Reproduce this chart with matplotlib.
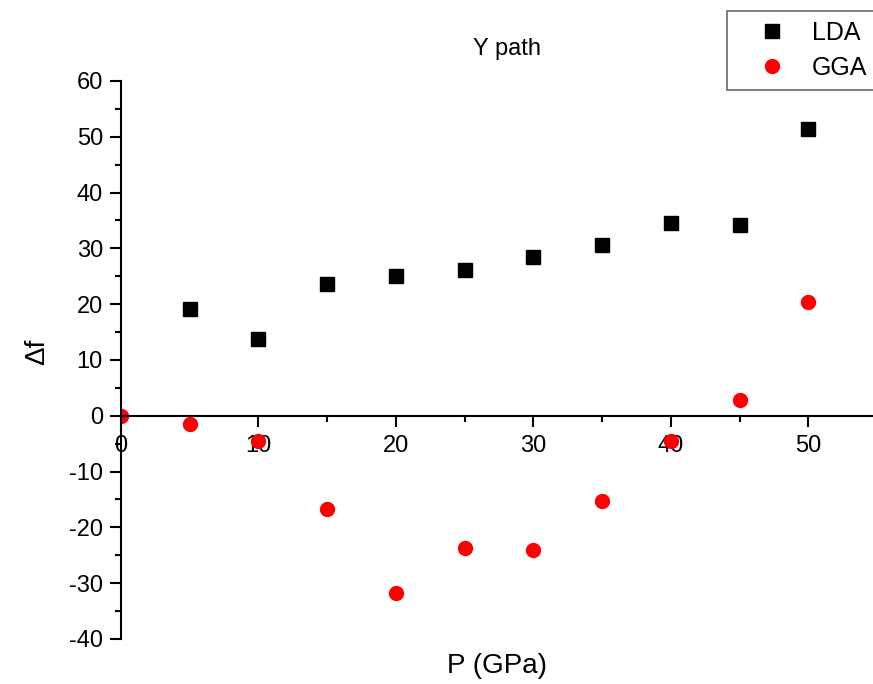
import matplotlib.pyplot as plt
from matplotlib.ticker import MultipleLocator

plt.rcParams['font.family'] = ['Liberation Sans', 'DejaVu Sans']
plt.rcParams['axes.unicode_minus'] = False

pressure = [0, 5, 10, 15, 20, 25, 30, 35, 40, 45, 50]
lda_pressure = [5, 10, 15, 20, 25, 30, 35, 40, 45, 50]
lda = [19.1, 13.8, 23.7, 25.0, 26.1, 28.5, 30.6, 34.5, 34.2, 51.4]
gga = [0, -1.5, -4.5, -16.7, -31.8, -23.7, -24.1, -15.3, -4.5, 2.8, 20.4]

fig = plt.figure(figsize=(8.73, 6.84), dpi=100)
ax = fig.add_axes([0.1386, 0.0658, 0.8614, 0.8158])

ax.plot(lda_pressure, lda, 's', color='black', markersize=9.5, label='LDA')
ax.plot(pressure, gga, 'o', color='red', markersize=10, label='GGA')

ax.set_xlim(0, 54.7)
ax.set_ylim(-40, 60)
ax.spines['top'].set_visible(False)
ax.spines['right'].set_visible(False)
ax.spines['bottom'].set_position(('data', 0))
for s in ax.spines.values():
    s.set_linewidth(1.5)

ax.xaxis.set_major_locator(MultipleLocator(10))
ax.xaxis.set_minor_locator(MultipleLocator(5))
ax.yaxis.set_major_locator(MultipleLocator(10))
ax.yaxis.set_minor_locator(MultipleLocator(5))
ax.tick_params(which='major', direction='out', length=8, width=1.5, labelsize=17)
ax.tick_params(which='minor', direction='out', length=4, width=1.5)
ax.tick_params(axis='x', pad=6)
ax.tick_params(axis='y', pad=5)

fig.text(0.581, 0.929, 'Y path', ha='center', va='center', fontsize=17)
fig.text(0.042, 0.485, '\u0394f', ha='center', va='center', rotation=90, fontsize=20)
fig.text(0.569, 0.027, 'P (GPa)', ha='center', va='center', fontsize=20)

leg = fig.legend(loc='upper left', bbox_to_anchor=(0.833, 0.984), fontsize=18,
                 fancybox=False, edgecolor='#444444', handletextpad=0.2,
                 borderpad=0.4, labelspacing=0.45, handlelength=2.8,
                 borderaxespad=0)
leg.get_frame().set_linewidth(1.2)

fig.savefig('out.png', dpi=100)
